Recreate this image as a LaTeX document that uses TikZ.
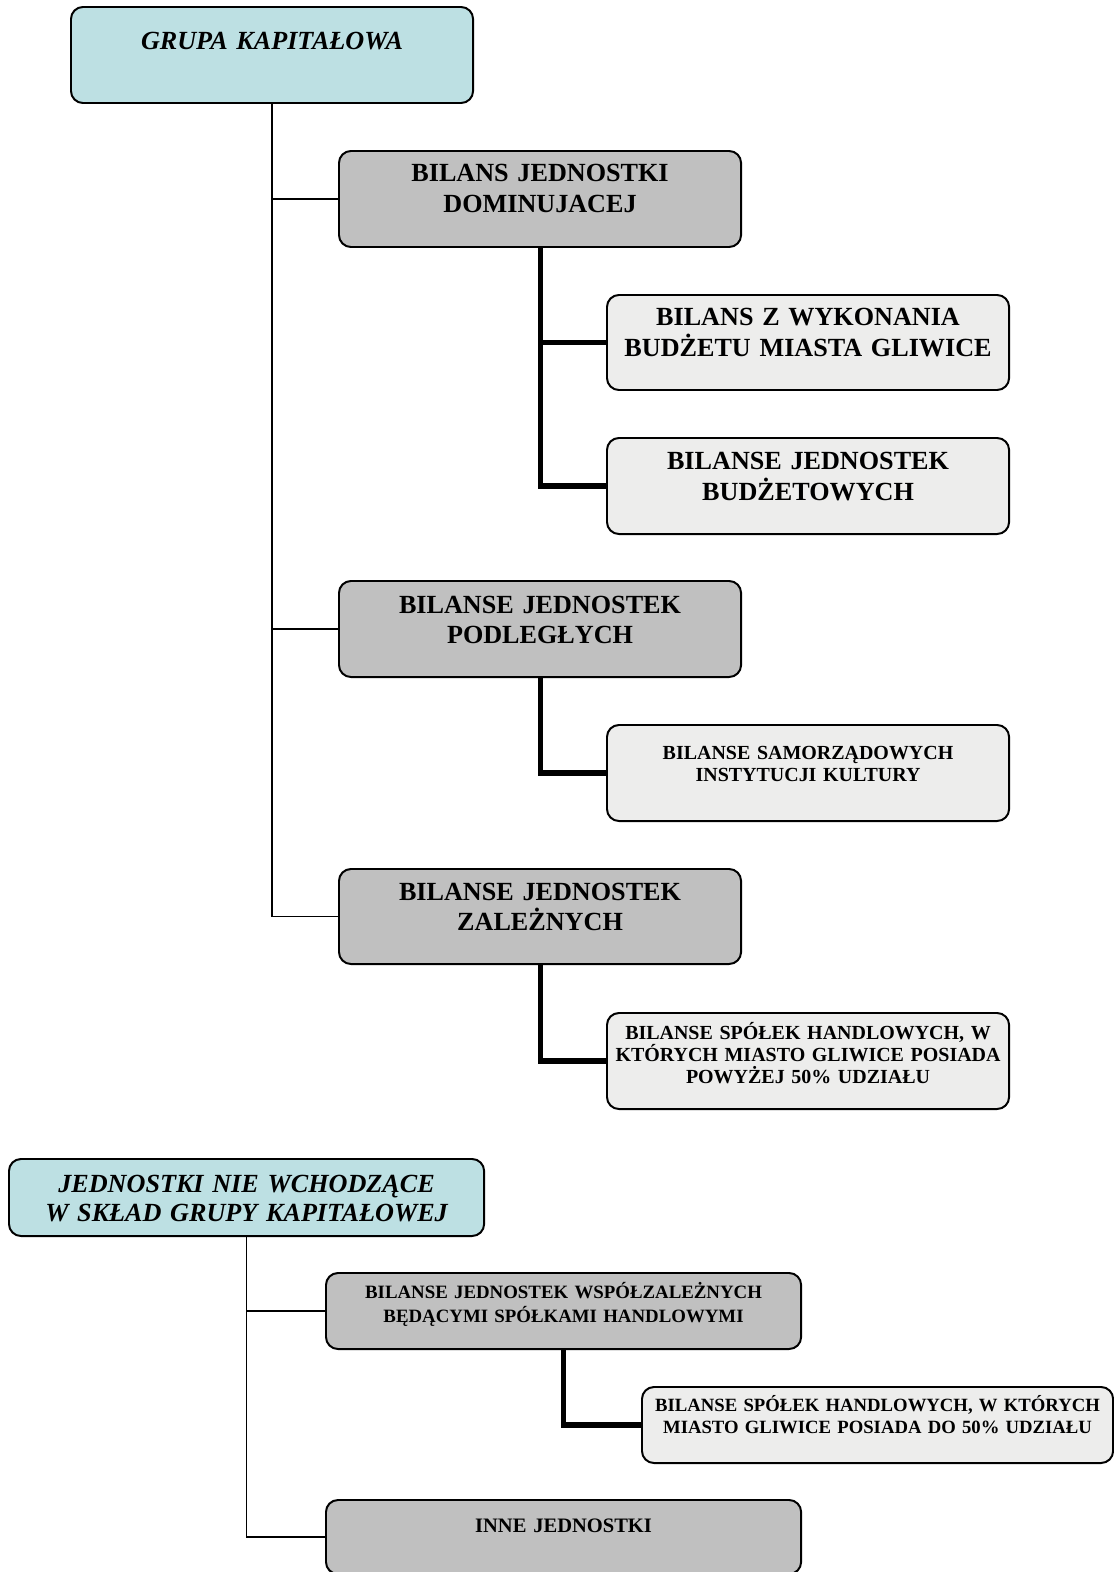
\documentclass[tikz,border=0pt]{standalone}
\usepackage{fontspec}
\setmainfont{Liberation Serif}
\usetikzlibrary{positioning}

\definecolor{headcyan}{RGB}{189,224,227}
\definecolor{midgray}{RGB}{192,192,192}
\definecolor{lightgray}{RGB}{237,237,236}

\newcommand{\bigtxt}{\fontsize{18.6pt}{22pt}\selectfont\bfseries}
\newcommand{\smalltxt}{\fontsize{14.2pt}{15.8pt}\selectfont\bfseries}

\tikzset{
  box/.style={draw, line width=1.4pt, rounded corners=0.3cm, anchor=north west,
    align=center, inner xsep=0pt, inner ysep=0pt},
  headbox/.style={box, fill=headcyan, font=\bigtxt\itshape},
  midbox/.style={box, fill=midgray},
  subbox/.style={box, fill=lightgray},
  thinline/.style={line width=1.1pt},
  thickline/.style={line width=3.6pt}
}

\begin{document}
\begin{tikzpicture}[x=0.025cm, y=-0.025cm]
        \useasboundingbox (0,0) rectangle (1113,1572);

        % Nodes (upper tree)
        \node[headbox, text width=10.05cm, text height=1.075cm, text depth=1.325cm] (grupa) at (70,6) {GRUPA KAPITAŁOWA};
        \node[midbox, font=\bigtxt, text width=10.05cm, text height=0.775cm, text depth=1.625cm] (dom) at (338,150) {BILANS JEDNOSTKI\\DOMINUJACEJ};
        \node[subbox, font=\bigtxt, text width=10.05cm, text height=0.775cm, text depth=1.6cm] (wyk) at (606,294) {BILANS Z WYKONANIA\\BUDŻETU MIASTA GLIWICE};
        \node[subbox, font=\bigtxt, text width=10.05cm, text height=0.8cm, text depth=1.6cm] (bjb) at (606,437) {BILANSE JEDNOSTEK\\BUDŻETOWYCH};
        \node[midbox, font=\bigtxt, text width=10.05cm, text height=0.8cm, text depth=1.6cm] (pod) at (338,580) {BILANSE JEDNOSTEK\\PODLEGŁYCH};
        \node[subbox, font=\smalltxt, text width=10.05cm, text height=0.85cm, text depth=1.55cm] (kult) at (606,724) {BILANSE SAMORZĄDOWYCH\\INSTYTUCJI KULTURY};
        \node[midbox, font=\bigtxt, text width=10.05cm, text height=0.775cm, text depth=1.6cm] (zal) at (338,868) {BILANSE JEDNOSTEK\\ZALEŻNYCH};
        \node[subbox, font=\smalltxt, text width=10.05cm, text height=0.65cm, text depth=1.75cm] (hand) at (606,1012) {BILANSE SPÓŁEK HANDLOWYCH, W\\KTÓRYCH MIASTO GLIWICE POSIADA\\POWYŻEJ 50\% UDZIAŁU};

        % Nodes (lower tree)
        \node[headbox, font=\fontsize{18.6pt}{21.3pt}\selectfont\bfseries\itshape, text width=11.875cm, text height=0.825cm, text depth=1.1cm] (jnw) at (8,1158) {JEDNOSTKI NIE WCHODZĄCE\\W SKŁAD GRUPY KAPITAŁOWEJ};
        \node[midbox, font=\fontsize{13.4pt}{17.5pt}\selectfont\bfseries, text width=11.875cm, text height=0.625cm, text depth=1.275cm] (wsp) at (325,1272) {BILANSE JEDNOSTEK WSPÓŁZALEŻNYCH\\BĘDĄCYMI SPÓŁKAMI HANDLOWYMI};
        \node[subbox, font=\fontsize{13.3pt}{16pt}\selectfont\bfseries, text width=11.775cm, text height=0.6cm, text depth=1.3cm] (dohand) at (641,1386) {BILANSE SPÓŁEK HANDLOWYCH, W KTÓRYCH\\MIASTO GLIWICE POSIADA DO 50\% UDZIAŁU};
        \node[midbox, font=\fontsize{14.6pt}{17pt}\selectfont\bfseries, text width=11.875cm, text height=0.8cm, text depth=1.05cm] (inne) at (325,1499) {INNE JEDNOSTKI};

        % Connectors
        \draw[thinline] (grupa.south) |- (zal.west);
        \draw[thinline] (grupa.south |- dom.west) -- (dom.west);
        \draw[thinline] (grupa.south |- pod.west) -- (pod.west);

        \draw[thickline] (dom.south) |- (bjb.west);
        \draw[thickline] (dom.south |- wyk.west) -- (wyk.west);
        \draw[thickline] (pod.south) |- (kult.west);
        \draw[thickline] (zal.south) |- (hand.west);

        \draw[thinline] (jnw.south) |- (inne.west);
        \draw[thinline] (jnw.south |- wsp.west) -- (wsp.west);
        \draw[thickline] (wsp.south) |- (dohand.west);
    \end{tikzpicture}
\end{document}
